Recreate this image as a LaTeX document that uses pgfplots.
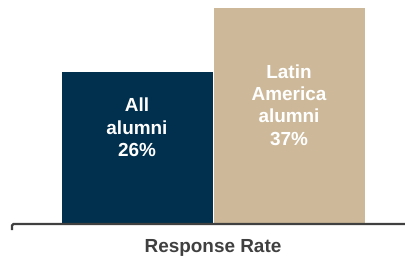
\documentclass[border=0pt]{standalone}
\usepackage{pgfplots}
\pgfplotsset{compat=1.18}
\usepackage{fontspec}
\setmainfont{Liberation Sans}
\definecolor{navy}{HTML}{00304E}
\definecolor{tan}{HTML}{CDB999}
\definecolor{axgray}{HTML}{404040}
\begin{document}
\begin{tikzpicture}
\useasboundingbox (0,0) rectangle (405bp,259bp);
\begin{axis}[
  at={(12bp,35bp)}, anchor=south west,
  scale only axis, width=393bp, height=224bp,
  xmin=-0.822, xmax=1.763, ymin=0, ymax=38.2,
  hide axis,
  clip=false,
]
\addplot[ybar, bar width=1, bar shift=0pt, fill=navy, draw=white, line width=0.6bp] coordinates {(0,26)};
\addplot[ybar, bar width=1, bar shift=0pt, fill=tan, draw=white, line width=0.6bp] coordinates {(1,37)};
\draw[axgray, line width=2.2bp, rounded corners=1.5bp] ([yshift=-6bp]axis cs:-0.822,0) -- (axis cs:-0.822,0) -- (axis cs:1.763,0);
\node[text=white, align=center, font=\fontsize{19}{22.5}\bfseries\selectfont] at (axis cs:0,16.5) {All\\alumni\\26\%};
\node[text=white, align=center, font=\fontsize{19}{22.5}\bfseries\selectfont] at (axis cs:1,20.3) {Latin\\America\\alumni\\37\%};
\end{axis}
\node[text=axgray, font=\fontsize{19}{22}\bfseries\selectfont] at (213bp,11bp) {Response Rate};
\end{tikzpicture}
\end{document}
